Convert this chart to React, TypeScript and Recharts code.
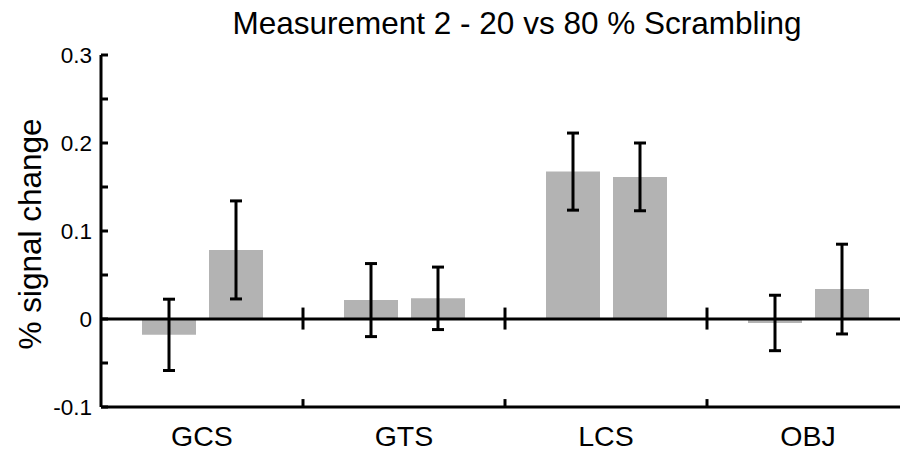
import React from 'react';
import { BarChart, Bar, XAxis, YAxis, ReferenceLine, ErrorBar } from 'recharts';

const categories = ['GCS', 'GTS', 'LCS', 'OBJ'];
const pct20 = [-0.018, 0.0215, 0.1675, -0.0045];
const pct80 = [0.0785, 0.0235, 0.1615, 0.034];
const err20 = [0.0405, 0.0415, 0.0438, 0.0315];
const err80 = [0.0557, 0.0355, 0.0385, 0.051];
const yTicks = [-0.1, -0.05, 0, 0.05, 0.1, 0.15, 0.2, 0.25, 0.3];
const yTickLabels = ['-0.1', '', '0', '', '0.1', '', '0.2', '', '0.3'];
const boundaryCats = categories.slice(1);
const titleText = 'Measurement 2 - 20 vs 80 % Scrambling';
const yLabelText = '% signal change';

const data = categories.map((c, i) => ({
  cat: c,
  m20: pct20[i],
  m80: pct80[i],
  e20: err20[i],
  e80: err80[i],
}));

const FONT = '"Liberation Sans", Arial, sans-serif';

const YTick = (props: any) => {
  const { x, y, index } = props;
  return (
    <g>
      <line x1={x} x2={x + 7} y1={y} y2={y} stroke="#000" strokeWidth={3} />
      <text x={x - 9} y={y} dy="0.36em" textAnchor="end" fontSize={22.5} fontFamily={FONT} fill="#000">
        {yTickLabels[index]}
      </text>
    </g>
  );
};

const XTick = (props: any) => {
  const { x, y, payload } = props;
  return (
    <text x={x} y={y} dy={39} textAnchor="middle" fontSize={28.5} fontFamily={FONT} fill="#000">
      {payload.value}
    </text>
  );
};

const YLabel = (props: any) => {
  const vb = props.viewBox || {};
  const cx = (vb.x || 0) + 30;
  const cy = (vb.y || 0) + (vb.height || 0) / 2 + 3;
  return (
    <text
      x={cx}
      y={cy}
      transform={`rotate(-90 ${cx} ${cy})`}
      textAnchor="middle"
      dominantBaseline="central"
      fontSize={31.5}
      fontFamily={FONT}
      fill="#000"
    >
      {yLabelText}
    </text>
  );
};

export default function App() {
  return (
    <div style={{ position: 'absolute', left: 0, top: 0, width: 900, height: 455, overflow: 'hidden', background: '#fff' }}>
      <div
        style={{
          position: 'absolute',
          left: 217,
          top: 5,
          width: 600,
          textAlign: 'center',
          fontFamily: FONT,
          fontSize: 31.5,
          color: '#000',
          whiteSpace: 'nowrap',
        }}
      >
        {titleText}
      </div>
      <BarChart
        width={910}
        height={455}
        data={data}
        margin={{ top: 55, right: 1, bottom: 0, left: 0 }}
        barGap={13}
      >
        <XAxis
          dataKey="cat"
          height={48}
          axisLine={{ stroke: '#000', strokeWidth: 3 }}
          tickLine={false}
          tickSize={0}
          tickMargin={0}
          tick={<XTick />}
          interval={0}
        />
        <YAxis
          width={101}
          type="number"
          domain={[-0.1, 0.3]}
          ticks={yTicks}
          interval={0}
          allowDataOverflow
          axisLine={{ stroke: '#000', strokeWidth: 3 }}
          tickLine={false}
          tickSize={0}
          tickMargin={0}
          tick={<YTick />}
          label={<YLabel />}
        />
        <Bar dataKey="m20" fill="#b3b3b3" barSize={54} isAnimationActive={false}>
          <ErrorBar dataKey="e20" stroke="#000" strokeWidth={3} width={6} direction="y" />
        </Bar>
        <Bar dataKey="m80" fill="#b3b3b3" barSize={54} isAnimationActive={false}>
          <ErrorBar dataKey="e80" stroke="#000" strokeWidth={3} width={6} direction="y" />
        </Bar>
        <ReferenceLine y={0} stroke="#000" strokeWidth={3} />
        {boundaryCats.map((c) => (
          <ReferenceLine
            key={`z${c}`}
            position="start"
            segment={[{ x: c, y: -0.012 }, { x: c, y: 0.013 }]}
            stroke="#000"
            strokeWidth={3}
          />
        ))}
        {boundaryCats.map((c) => (
          <ReferenceLine
            key={`b${c}`}
            position="start"
            segment={[{ x: c, y: -0.1 }, { x: c, y: -0.091 }]}
            stroke="#000"
            strokeWidth={3}
          />
        ))}
      </BarChart>
    </div>
  );
}
